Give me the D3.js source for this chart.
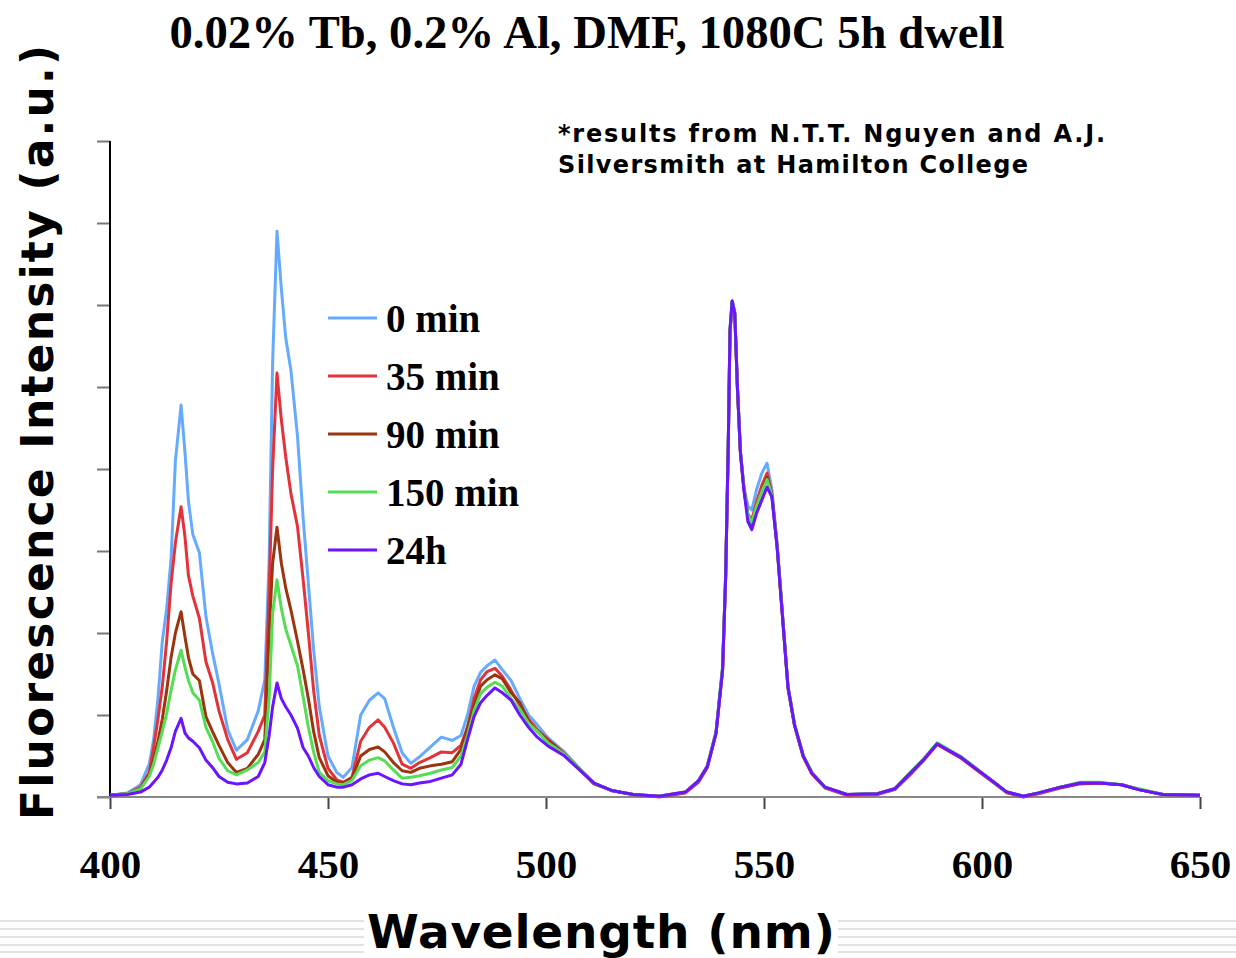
<!DOCTYPE html>
<html>
<head>
<meta charset="utf-8">
<script src="https://cdnjs.cloudflare.com/ajax/libs/d3/7.8.5/d3.min.js"></script>
<style>
  body { margin: 0; background: #fff; }
  svg { display: block; }
</style>
</head>
<body>
<div id="chart"></div>
<script>
// wavelength grid (nm) shared by all series
var wavelengths = [400, 404, 407, 409, 410, 411, 412, 413, 414, 415, 416.3, 417.2, 418, 419, 420.5, 422, 423.5, 425, 427, 429,
  431.5, 434, 435.5, 436.5, 437.3, 438.3, 439.3, 440.3, 441.5, 443, 444.3, 445.5, 446.7, 448, 450, 452, 453.5, 455.5, 457.5, 459.5,
  461.5, 463, 465, 467, 469, 471, 473.5, 476, 478.5, 480.5, 482, 483.5, 485, 486.5, 488.3, 490, 492, 494, 496, 498,
  500.5, 504, 507.5, 511, 515, 520, 526, 532, 535, 537, 539, 540.5, 541.2, 541.8, 542.2, 542.7, 543.3, 543.9, 544.6, 545.4,
  546.3, 547.2, 548.3, 549.5, 550.7, 551.8, 553, 554, 555.5, 557, 559, 561, 564, 569, 576, 580, 583.5, 586.5, 589.7, 591,
  595, 598, 602, 605.7, 609.5, 613, 618, 622.5, 627, 632, 636, 641.5, 650];

var min0 = [0.02, 0.05, 0.15, 0.4, 0.7, 1.2, 1.9, 2.3, 2.9, 4.1, 4.78, 4.2, 3.6, 3.2, 2.98, 2.2, 1.76, 1.38, 0.82, 0.57,
  0.7, 1.05, 1.43, 2.9, 5.3, 6.9, 6.2, 5.6, 5.2, 4.4, 3.4, 2.6, 1.8, 1.1, 0.5, 0.3, 0.24, 0.36, 1.0, 1.18,
  1.27, 1.2, 0.85, 0.54, 0.41, 0.49, 0.61, 0.73, 0.69, 0.75, 1.0, 1.35, 1.52, 1.6, 1.67, 1.55, 1.42, 1.2, 1.0, 0.88,
  0.72, 0.56, 0.36, 0.17, 0.08, 0.03, 0.01, 0.06, 0.2, 0.38, 0.8, 1.6, 2.7, 4.3, 5.7, 6.05, 5.9, 5.0, 4.2, 3.78,
  3.55, 3.5, 3.75, 3.95, 4.07, 3.75, 3.1, 2.4, 1.35, 0.88, 0.5, 0.29, 0.12, 0.03, 0.04, 0.1, 0.29, 0.45, 0.65, 0.61,
  0.49, 0.37, 0.21, 0.06, 0.01, 0.05, 0.12, 0.17, 0.17, 0.15, 0.09, 0.03, 0.02];

var min35 = [0.02, 0.04, 0.12, 0.3, 0.6, 0.95, 1.35, 1.9, 2.6, 3.1, 3.54, 3.17, 2.7, 2.45, 2.18, 1.65, 1.4, 1.05, 0.7, 0.46,
  0.54, 0.8, 1.0, 2.5, 4.0, 5.17, 4.6, 4.15, 3.7, 3.3, 2.65, 2.0, 1.3, 0.75, 0.35, 0.21, 0.18, 0.24, 0.68, 0.85,
  0.94, 0.85, 0.66, 0.4, 0.35, 0.42, 0.48, 0.55, 0.54, 0.63, 0.85, 1.2, 1.43, 1.53, 1.57, 1.47, 1.3, 1.12, 0.95, 0.82,
  0.7, 0.54, 0.35, 0.17, 0.08, 0.03, 0.0, 0.05, 0.18, 0.36, 0.78, 1.55, 2.65, 4.25, 5.65, 6.03, 5.88, 4.98, 4.18, 3.75,
  3.45, 3.38, 3.6, 3.8, 3.95, 3.7, 3.07, 2.38, 1.33, 0.87, 0.49, 0.28, 0.11, 0.02, 0.03, 0.09, 0.27, 0.44, 0.64, 0.6,
  0.48, 0.36, 0.2, 0.05, 0.0, 0.04, 0.11, 0.16, 0.17, 0.15, 0.09, 0.03, 0.02];

var min90 = [0.02, 0.04, 0.1, 0.27, 0.45, 0.68, 0.95, 1.3, 1.7, 2.0, 2.26, 1.95, 1.7, 1.5, 1.42, 0.98, 0.8, 0.63, 0.42, 0.3,
  0.35, 0.52, 0.7, 2.0, 2.85, 3.29, 2.85, 2.55, 2.28, 1.9, 1.55, 1.2, 0.8, 0.48, 0.26, 0.18, 0.17, 0.23, 0.5, 0.58,
  0.61, 0.55, 0.42, 0.32, 0.3, 0.35, 0.38, 0.4, 0.43, 0.58, 0.85, 1.12, 1.35, 1.43, 1.49, 1.44, 1.27, 1.15, 0.92, 0.8,
  0.69, 0.53, 0.35, 0.16, 0.08, 0.03, 0.01, 0.06, 0.2, 0.37, 0.78, 1.55, 2.68, 4.28, 5.68, 6.04, 5.9, 5.0, 4.2, 3.76,
  3.42, 3.32, 3.55, 3.72, 3.9, 3.68, 3.06, 2.37, 1.34, 0.88, 0.5, 0.29, 0.12, 0.03, 0.04, 0.1, 0.29, 0.45, 0.65, 0.61,
  0.49, 0.37, 0.21, 0.06, 0.01, 0.05, 0.12, 0.17, 0.17, 0.15, 0.09, 0.03, 0.02];

var min150 = [0.02, 0.04, 0.1, 0.25, 0.4, 0.6, 0.8, 1.02, 1.3, 1.55, 1.79, 1.58, 1.42, 1.27, 1.18, 0.85, 0.68, 0.47, 0.32, 0.27,
  0.33, 0.42, 0.55, 1.2, 2.24, 2.65, 2.3, 2.05, 1.85, 1.6, 1.22, 0.85, 0.55, 0.3, 0.2, 0.16, 0.15, 0.2, 0.38, 0.45,
  0.48, 0.44, 0.33, 0.23, 0.24, 0.26, 0.29, 0.33, 0.36, 0.5, 0.75, 1.05, 1.26, 1.34, 1.4, 1.35, 1.2, 1.07, 0.9, 0.8,
  0.66, 0.53, 0.35, 0.17, 0.08, 0.03, 0.01, 0.06, 0.2, 0.38, 0.79, 1.58, 2.7, 4.3, 5.7, 6.05, 5.92, 5.02, 4.22, 3.77,
  3.44, 3.35, 3.55, 3.72, 3.87, 3.68, 3.07, 2.39, 1.35, 0.89, 0.51, 0.3, 0.12, 0.03, 0.04, 0.1, 0.3, 0.46, 0.66, 0.62,
  0.5, 0.38, 0.21, 0.06, 0.01, 0.05, 0.12, 0.18, 0.18, 0.15, 0.1, 0.03, 0.02];

var hr24 = [0.02, 0.03, 0.06, 0.12, 0.18, 0.24, 0.33, 0.45, 0.6, 0.8, 0.96, 0.78, 0.72, 0.68, 0.6, 0.45, 0.36, 0.25, 0.18, 0.16,
  0.17, 0.25, 0.42, 0.75, 1.1, 1.39, 1.2, 1.1, 1.0, 0.84, 0.6, 0.5, 0.36, 0.25, 0.15, 0.12, 0.12, 0.15, 0.22, 0.27,
  0.29, 0.25, 0.2, 0.16, 0.15, 0.17, 0.19, 0.23, 0.27, 0.4, 0.7, 0.98, 1.15, 1.24, 1.33, 1.27, 1.18, 1.0, 0.85, 0.73,
  0.62, 0.51, 0.34, 0.17, 0.08, 0.03, 0.01, 0.06, 0.2, 0.37, 0.78, 1.55, 2.68, 4.28, 5.7, 6.05, 5.9, 5.0, 4.2, 3.74,
  3.36, 3.26, 3.46, 3.62, 3.78, 3.66, 3.05, 2.36, 1.34, 0.88, 0.5, 0.29, 0.12, 0.03, 0.04, 0.1, 0.29, 0.45, 0.65, 0.61,
  0.49, 0.37, 0.21, 0.06, 0.01, 0.05, 0.12, 0.17, 0.17, 0.15, 0.09, 0.03, 0.02];

var seriesNames = ["0 min", "35 min", "90 min", "150 min", "24h"];
var seriesColors = ["#66aaff", "#e2333a", "#9a3510", "#55dd55", "#6a14ff"];
var seriesValues = [min0, min35, min90, min150, hr24];

var xTicks = [400, 450, 500, 550, 600, 650];
var yTicks = [0, 1, 2, 3, 4, 5, 6, 7, 8];

var W = 1236, H = 958;
var svg = d3.select("#chart").append("svg").attr("width", W).attr("height", H);

var x = d3.scaleLinear().domain([400, 650]).range([110, 1200]);
var y = d3.scaleLinear().domain([0, 8]).range([797, 141]);

// decorative stripes at the bottom
[921, 929, 937, 945, 952].forEach(function(yy) {
  svg.append("line").attr("x1", 0).attr("x2", W).attr("y1", yy).attr("y2", yy)
    .attr("stroke", "#e2e2e2").attr("stroke-width", 2);
});

// title
svg.append("text").attr("x", 587).attr("y", 48).attr("text-anchor", "middle")
  .attr("font-family", "Liberation Serif, Times New Roman, serif").attr("font-weight", "bold")
  .attr("font-size", 46).attr("textLength", 835).attr("lengthAdjust", "spacingAndGlyphs")
  .text("0.02% Tb, 0.2% Al, DMF, 1080C 5h dwell");

// note
var note = svg.append("text").attr("font-family", "DejaVu Sans, Verdana, sans-serif")
  .attr("font-weight", "bold").attr("font-size", 24);
note.append("tspan").attr("x", 558).attr("y", 142).attr("textLength", 547).attr("lengthAdjust", "spacing")
  .text("*results from N.T.T. Nguyen and A.J.");
note.append("tspan").attr("x", 558).attr("y", 173).attr("textLength", 470).attr("lengthAdjust", "spacing")
  .text("Silversmith at Hamilton College");

// y axis
var yAxis = svg.append("g").attr("transform", "translate(110,0)")
  .call(d3.axisLeft(y).tickValues(yTicks).tickSize(13).tickFormat(""));
yAxis.select(".domain").remove();
yAxis.selectAll(".tick line").attr("stroke", "#777").attr("stroke-width", 2);
svg.append("line").attr("x1", 110).attr("x2", 110).attr("y1", y(8)).attr("y2", y(0))
  .attr("stroke", "#000").attr("stroke-width", 2);

// x axis
var xAxis = svg.append("g").attr("transform", "translate(0,797)")
  .call(d3.axisBottom(x).tickValues(xTicks).tickSize(12).tickFormat(""));
xAxis.select(".domain").remove();
xAxis.selectAll(".tick line").attr("stroke", "#444").attr("stroke-width", 2);
svg.append("line").attr("x1", 97).attr("x2", 1200).attr("y1", 797).attr("y2", 797)
  .attr("stroke", "#888").attr("stroke-width", 2);

xAxis.selectAll(".tick").append("text").attr("y", 81).attr("fill", "#000")
  .attr("text-anchor", "middle").attr("font-family", "Liberation Serif, Times New Roman, serif")
  .attr("font-weight", "bold").attr("font-size", 41).text(function(d) { return d; });

// axis titles
svg.append("rect").attr("x", 364).attr("y", 905).attr("width", 474).attr("height", 53).attr("fill", "#fff");
svg.append("text").attr("x", 367).attr("y", 948)
  .attr("font-family", "DejaVu Sans, Verdana, sans-serif").attr("font-weight", "bold")
  .attr("font-size", 47).attr("textLength", 468).attr("lengthAdjust", "spacing")
  .text("Wavelength (nm)");

svg.append("text").attr("transform", "translate(53,820) rotate(-90)")
  .attr("font-family", "DejaVu Sans, Verdana, sans-serif").attr("font-weight", "bold")
  .attr("font-size", 44).attr("textLength", 775).attr("lengthAdjust", "spacing")
  .text("Fluorescence Intensity (a.u.)");

// spectra
var line = d3.line().x(function(d, i) { return x(wavelengths[i]); }).y(function(d) { return y(d); });
seriesValues.forEach(function(vals, k) {
  svg.append("path").datum(vals).attr("d", line).attr("fill", "none")
    .attr("stroke", seriesColors[k]).attr("stroke-width", 3).attr("stroke-linejoin", "round");
});

// legend
var legend = svg.append("g");
seriesNames.forEach(function(name, k) {
  var ly = 318 + k * 58;
  legend.append("line").attr("x1", 328).attr("x2", 377).attr("y1", ly).attr("y2", ly)
    .attr("stroke", seriesColors[k]).attr("stroke-width", 3);
  legend.append("text").attr("x", 386).attr("y", ly + 14)
    .attr("font-family", "Liberation Serif, Times New Roman, serif").attr("font-weight", "bold")
    .attr("font-size", 39).text(name);
});
</script>
</body>
</html>
